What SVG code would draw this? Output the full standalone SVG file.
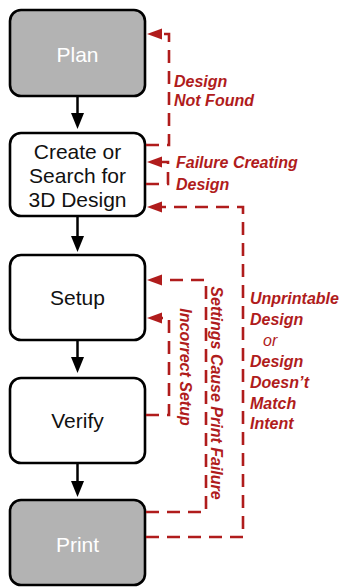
<svg xmlns="http://www.w3.org/2000/svg" width="343" height="587" viewBox="0 0 343 587">
<style>
.box{stroke:#000;stroke-width:2.6}
.gray{fill:#b3b3b3}
.white{fill:#fff}
.nt{font-family:"Liberation Sans",Arial,sans-serif;font-size:21px;text-anchor:middle;fill:#111}
.nt.w{fill:#fff}
.flow{stroke:#000;stroke-width:2.5;fill:none}
.fb{stroke:#b01c1c;stroke-width:2.6;fill:none;stroke-dasharray:13 8}
.lbl{font-family:"Liberation Sans",Arial,sans-serif;font-size:16px;font-weight:bold;font-style:italic;fill:#b01c1c}
.or{font-weight:normal}
</style>
<defs>
<marker id="ab" markerUnits="userSpaceOnUse" markerWidth="16" markerHeight="14" refX="0" refY="6.5" orient="auto" viewBox="0 0 16 14" overflow="visible">
<path d="M0,0 L16,6.5 L0,13 z" fill="#000"/>
</marker>
<marker id="ar" markerUnits="userSpaceOnUse" markerWidth="15" markerHeight="12" refX="0" refY="5.5" orient="auto" viewBox="0 0 15 12" overflow="visible">
<path d="M0,0 L15,5.5 L0,11 z" fill="#b01c1c"/>
</marker>
</defs>

<g id="plan"><rect class="box gray" x="10" y="10" width="135" height="86" rx="11"/><text class="nt w" x="77.5" y="62">Plan</text></g>
<g id="create"><rect class="box white" x="10" y="133" width="135" height="83" rx="11"/><text class="nt" x="77.5" y="159">Create or</text><text class="nt" x="77.5" y="183">Search for</text><text class="nt" x="77.5" y="207">3D Design</text></g>
<g id="setup"><rect class="box white" x="10" y="255" width="135" height="85" rx="11"/><text class="nt" x="77.5" y="305">Setup</text></g>
<g id="verify"><rect class="box white" x="10" y="378" width="135" height="85" rx="11"/><text class="nt" x="77.5" y="428">Verify</text></g>
<g id="print"><rect class="box gray" x="10" y="500" width="135" height="85" rx="11"/><text class="nt w" x="77.5" y="552">Print</text></g>

<g id="connectors">
<path class="flow" d="M77.5,96 V113" marker-end="url(#ab)"/>
<path class="flow" d="M77.5,216 V236" marker-end="url(#ab)"/>
<path class="flow" d="M77.5,340 V357" marker-end="url(#ab)"/>
<path class="flow" d="M77.5,463 V481" marker-end="url(#ab)"/>

<path class="fb" d="M146,145 H169 V34 H162" marker-end="url(#ar)"/>
<path class="fb" d="M146,184 H168 V162 H162" marker-end="url(#ar)" stroke-dasharray="13 8 14 30"/>
<path class="fb" d="M146,537 H243 V207 H162" marker-end="url(#ar)"/>
<path class="fb" d="M146,512 H206 V280 H162" marker-end="url(#ar)"/>
<path class="fb" d="M146,415 H169 V318 H162" marker-end="url(#ar)"/>
</g>

<g id="labels">
<text class="lbl" x="174" y="87">Design</text>
<text class="lbl" x="174" y="106">Not Found</text>
<text class="lbl" x="176" y="168">Failure Creating</text>
<text class="lbl" x="176" y="190">Design</text>
<text class="lbl" x="250" y="304">Unprintable</text>
<text class="lbl" x="250" y="325">Design</text>
<text class="lbl or" x="263" y="346">or</text>
<text class="lbl" x="250" y="367">Design</text>
<text class="lbl" x="250" y="388">Doesn’t</text>
<text class="lbl" x="250" y="409">Match</text>
<text class="lbl" x="250" y="429">Intent</text>
<text class="lbl" text-anchor="middle" transform="translate(211,393) rotate(90)">Settings Cause Print Failure</text>
<text class="lbl" text-anchor="middle" transform="translate(180,367) rotate(90)">Incorrect Setup</text>
</g>
</svg>
